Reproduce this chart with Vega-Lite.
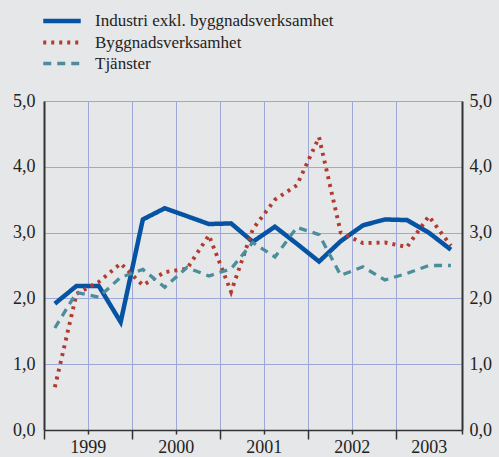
{
  "$schema": "https://vega.github.io/schema/vega-lite/v6.json",
  "width": 418,
  "height": 329,
  "autosize": "none",
  "padding": {"left": 44, "top": 101, "right": 37, "bottom": 27},
  "background": "#e6e7e9",
  "config": {"view": {"stroke": null}, "font": "Liberation Serif"},
  "data": {
    "values": [
      {"date": "1999-02-15", "serie": "Industri exkl. byggnadsverksamhet", "value": 1.92},
      {"date": "1999-05-16", "serie": "Industri exkl. byggnadsverksamhet", "value": 2.19},
      {"date": "1999-08-16", "serie": "Industri exkl. byggnadsverksamhet", "value": 2.19},
      {"date": "1999-11-15", "serie": "Industri exkl. byggnadsverksamhet", "value": 1.64},
      {"date": "2000-02-15", "serie": "Industri exkl. byggnadsverksamhet", "value": 3.2},
      {"date": "2000-05-16", "serie": "Industri exkl. byggnadsverksamhet", "value": 3.37},
      {"date": "2000-08-16", "serie": "Industri exkl. byggnadsverksamhet", "value": 3.25},
      {"date": "2000-11-15", "serie": "Industri exkl. byggnadsverksamhet", "value": 3.13},
      {"date": "2001-02-15", "serie": "Industri exkl. byggnadsverksamhet", "value": 3.14},
      {"date": "2001-05-16", "serie": "Industri exkl. byggnadsverksamhet", "value": 2.86},
      {"date": "2001-08-16", "serie": "Industri exkl. byggnadsverksamhet", "value": 3.09},
      {"date": "2001-11-15", "serie": "Industri exkl. byggnadsverksamhet", "value": 2.83},
      {"date": "2002-02-15", "serie": "Industri exkl. byggnadsverksamhet", "value": 2.56},
      {"date": "2002-05-16", "serie": "Industri exkl. byggnadsverksamhet", "value": 2.87},
      {"date": "2002-08-16", "serie": "Industri exkl. byggnadsverksamhet", "value": 3.11},
      {"date": "2002-11-15", "serie": "Industri exkl. byggnadsverksamhet", "value": 3.2},
      {"date": "2003-02-15", "serie": "Industri exkl. byggnadsverksamhet", "value": 3.19},
      {"date": "2003-05-16", "serie": "Industri exkl. byggnadsverksamhet", "value": 3.0},
      {"date": "2003-08-16", "serie": "Industri exkl. byggnadsverksamhet", "value": 2.74},
      {"date": "1999-02-15", "serie": "Byggnadsverksamhet", "value": 0.65},
      {"date": "1999-05-16", "serie": "Byggnadsverksamhet", "value": 2.07},
      {"date": "1999-08-16", "serie": "Byggnadsverksamhet", "value": 2.25},
      {"date": "1999-11-15", "serie": "Byggnadsverksamhet", "value": 2.53},
      {"date": "2000-02-15", "serie": "Byggnadsverksamhet", "value": 2.2},
      {"date": "2000-05-16", "serie": "Byggnadsverksamhet", "value": 2.4},
      {"date": "2000-08-16", "serie": "Byggnadsverksamhet", "value": 2.45},
      {"date": "2000-11-15", "serie": "Byggnadsverksamhet", "value": 2.96},
      {"date": "2001-02-15", "serie": "Byggnadsverksamhet", "value": 2.1},
      {"date": "2001-05-16", "serie": "Byggnadsverksamhet", "value": 3.05},
      {"date": "2001-08-16", "serie": "Byggnadsverksamhet", "value": 3.5},
      {"date": "2001-11-15", "serie": "Byggnadsverksamhet", "value": 3.72},
      {"date": "2002-02-15", "serie": "Byggnadsverksamhet", "value": 4.45},
      {"date": "2002-05-16", "serie": "Byggnadsverksamhet", "value": 3.0},
      {"date": "2002-08-16", "serie": "Byggnadsverksamhet", "value": 2.84},
      {"date": "2002-11-15", "serie": "Byggnadsverksamhet", "value": 2.85},
      {"date": "2003-02-15", "serie": "Byggnadsverksamhet", "value": 2.78},
      {"date": "2003-05-16", "serie": "Byggnadsverksamhet", "value": 3.25},
      {"date": "2003-08-16", "serie": "Byggnadsverksamhet", "value": 2.8},
      {"date": "1999-02-15", "serie": "Tjänster", "value": 1.55},
      {"date": "1999-05-16", "serie": "Tjänster", "value": 2.09},
      {"date": "1999-08-16", "serie": "Tjänster", "value": 2.02},
      {"date": "1999-11-15", "serie": "Tjänster", "value": 2.32},
      {"date": "2000-02-15", "serie": "Tjänster", "value": 2.44},
      {"date": "2000-05-16", "serie": "Tjänster", "value": 2.17},
      {"date": "2000-08-16", "serie": "Tjänster", "value": 2.47},
      {"date": "2000-11-15", "serie": "Tjänster", "value": 2.34},
      {"date": "2001-02-15", "serie": "Tjänster", "value": 2.45},
      {"date": "2001-05-16", "serie": "Tjänster", "value": 2.85},
      {"date": "2001-08-16", "serie": "Tjänster", "value": 2.63},
      {"date": "2001-11-15", "serie": "Tjänster", "value": 3.08},
      {"date": "2002-02-15", "serie": "Tjänster", "value": 2.97},
      {"date": "2002-05-16", "serie": "Tjänster", "value": 2.35},
      {"date": "2002-08-16", "serie": "Tjänster", "value": 2.48},
      {"date": "2002-11-15", "serie": "Tjänster", "value": 2.28},
      {"date": "2003-02-15", "serie": "Tjänster", "value": 2.38},
      {"date": "2003-05-16", "serie": "Tjänster", "value": 2.5},
      {"date": "2003-08-16", "serie": "Tjänster", "value": 2.5}
    ]
  },
  "layer": [
    {
      "mark": {"type": "line", "clip": true},
      "encoding": {
        "x": {
          "field": "date", "type": "temporal",
          "scale": {"type": "utc", "domain": [{"year": 1999, "month": 1, "date": 1, "utc": true}, {"year": 2003, "month": 10, "date": 1, "utc": true}]},
          "axis": {
            "title": null,
            "values": [
              {"year": 1999, "month": 1, "date": 1, "utc": true}, {"year": 1999, "month": 4, "date": 1, "utc": true}, {"year": 1999, "month": 7, "date": 1, "utc": true}, {"year": 1999, "month": 10, "date": 1, "utc": true},
              {"year": 2000, "month": 1, "date": 1, "utc": true}, {"year": 2000, "month": 4, "date": 1, "utc": true}, {"year": 2000, "month": 7, "date": 1, "utc": true}, {"year": 2000, "month": 10, "date": 1, "utc": true},
              {"year": 2001, "month": 1, "date": 1, "utc": true}, {"year": 2001, "month": 4, "date": 1, "utc": true}, {"year": 2001, "month": 7, "date": 1, "utc": true}, {"year": 2001, "month": 10, "date": 1, "utc": true},
              {"year": 2002, "month": 1, "date": 1, "utc": true}, {"year": 2002, "month": 4, "date": 1, "utc": true}, {"year": 2002, "month": 7, "date": 1, "utc": true}, {"year": 2002, "month": 10, "date": 1, "utc": true},
              {"year": 2003, "month": 1, "date": 1, "utc": true}, {"year": 2003, "month": 4, "date": 1, "utc": true}, {"year": 2003, "month": 5, "date": 16, "utc": true}, {"year": 2003, "month": 7, "date": 1, "utc": true}, {"year": 2003, "month": 10, "date": 1, "utc": true}
            ],
            "labelExpr": "(utcmonth(datum.value) == 6 && utcyear(datum.value) < 2003) || utcmonth(datum.value) == 4 ? '' + utcyear(datum.value) : ''",
            "labelOverlap": false,
            "labelFlush": false,
            "labelBound": false,
            "labelFont": "Liberation Serif",
            "labelFontSize": 18,
            "labelColor": "#222222",
            "labelPadding": 4,
            "grid": true,
            "gridColor": "#9ea8d8",
            "gridWidth": 1,
            "gridOpacity": {"condition": {"test": "utcdate(datum.value) != 1", "value": 0}, "value": 1},
            "tickSize": {"condition": {"test": "utcmonth(datum.value) == 0", "value": 9}, "value": 4},
            "tickOpacity": {"condition": {"test": "utcdate(datum.value) != 1", "value": 0}, "value": 1},
            "tickColor": "#333333",
            "tickWidth": 1.5,
            "domainColor": "#333333",
            "domainWidth": 1.5
          }
        },
        "y": {
          "field": "value", "type": "quantitative",
          "scale": {"domain": [0, 5], "nice": false},
          "axis": {
            "orient": "left",
            "title": null,
            "values": [0, 1, 2, 3, 4, 5],
            "labelExpr": "replace(format(datum.value, '.1f'), '.', ',')",
            "labelFont": "Liberation Serif",
            "labelFontSize": 18,
            "labelColor": "#222222",
            "labelPadding": 9,
            "ticks": false,
            "grid": true,
            "gridColor": "#9ea8d8",
            "gridWidth": 1,
            "domainColor": "#333333",
            "domainWidth": 2
          }
        },
        "color": {
          "field": "serie", "type": "nominal",
          "scale": {"domain": ["Industri exkl. byggnadsverksamhet", "Byggnadsverksamhet", "Tjänster"], "range": ["#0653a3", "#b23b30", "#4c8d9b"]},
          "legend": {
            "title": null, "orient": "none", "legendX": -2, "legendY": -90,
            "symbolType": "M-2.5,0L2.5,0", "symbolSize": 225, "symbolStrokeWidth": 4, "symbolOffset": 10,
            "labelFont": "Liberation Serif", "labelFontSize": 17, "labelColor": "#222222",
            "labelOffset": 23, "rowPadding": 3, "labelLimit": 400
          }
        },
        "strokeDash": {
          "field": "serie", "type": "nominal",
          "scale": {"domain": ["Industri exkl. byggnadsverksamhet", "Byggnadsverksamhet", "Tjänster"], "range": [[1, 0], [3, 5], [8, 6]]},
          "legend": {
            "title": null, "orient": "none", "legendX": -2, "legendY": -90,
            "symbolType": "M-2.5,0L2.5,0", "symbolSize": 225, "symbolStrokeWidth": 4, "symbolOffset": 10,
            "labelFont": "Liberation Serif", "labelFontSize": 17, "labelColor": "#222222",
            "labelOffset": 23, "rowPadding": 3, "labelLimit": 400
          }
        },
        "strokeWidth": {
          "field": "serie", "type": "nominal",
          "scale": {"domain": ["Industri exkl. byggnadsverksamhet", "Byggnadsverksamhet", "Tjänster"], "range": [4.5, 3.3, 4]},
          "legend": null
        }
      }
    },
    {
      "mark": {"type": "point", "opacity": 0},
      "encoding": {
        "x": {"field": "date", "type": "temporal"},
        "y": {
          "field": "value", "type": "quantitative",
          "axis": {
            "orient": "right",
            "title": null,
            "values": [0, 1, 2, 3, 4, 5],
            "labelExpr": "replace(format(datum.value, '.1f'), '.', ',')",
            "labelFont": "Liberation Serif",
            "labelFontSize": 18,
            "labelColor": "#222222",
            "labelPadding": 7,
            "ticks": false,
            "grid": false,
            "domainColor": "#333333",
            "domainWidth": 2
          }
        }
      }
    }
  ],
  "resolve": {"axis": {"y": "independent"}}
}
